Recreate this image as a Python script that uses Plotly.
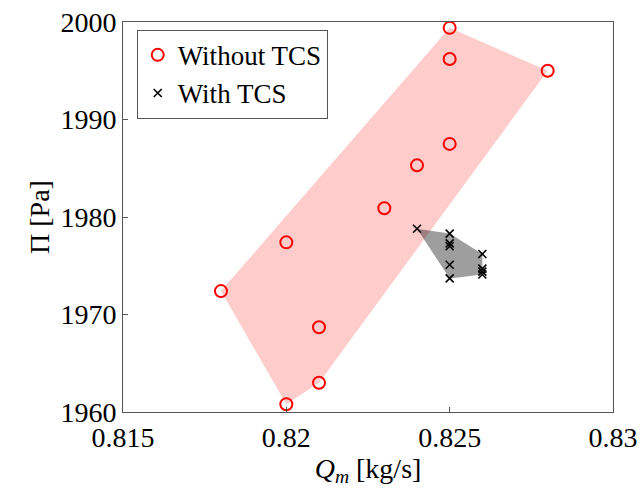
import plotly.graph_objects as go

# Data
x_without = [0.825, 0.825, 0.828, 0.825, 0.824, 0.823, 0.820, 0.818, 0.821, 0.821, 0.820]
y_without = [1999.4, 1996.2, 1995.0, 1987.5, 1985.3, 1980.9, 1977.4, 1972.4, 1968.7, 1963.0, 1960.8]
hull_without_x = [0.825, 0.828, 0.821, 0.820, 0.818]
hull_without_y = [1999.4, 1995.0, 1963.0, 1960.8, 1972.4]

x_with = [0.824, 0.825, 0.825, 0.825, 0.825, 0.825, 0.826, 0.826, 0.826, 0.826]
y_with = [1978.8, 1978.3, 1977.3, 1977.0, 1975.1, 1973.7, 1976.2, 1974.7, 1974.4, 1974.1]
hull_with_x = [0.824, 0.825, 0.826, 0.826, 0.825]
hull_with_y = [1978.8, 1978.3, 1976.2, 1974.1, 1973.7]

x_ticks = [0.815, 0.82, 0.825, 0.83]
x_ticktext = ["0.815", "0.82", "0.825", "0.83"]
y_ticks = [1960, 1970, 1980, 1990, 2000]

FONT = "Liberation Serif"

fig = go.Figure()
fig.add_trace(go.Scatter(x=hull_without_x + hull_without_x[:1], y=hull_without_y + hull_without_y[:1],
                         fill="toself", fillcolor="rgba(255,0,0,0.2)", line=dict(width=0),
                         mode="lines", showlegend=False, hoverinfo="skip"))
fig.add_trace(go.Scatter(x=hull_with_x + hull_with_x[:1], y=hull_with_y + hull_with_y[:1],
                         fill="toself", fillcolor="rgba(0,0,0,0.38)", line=dict(width=0),
                         mode="lines", showlegend=False, hoverinfo="skip"))
fig.add_trace(go.Scatter(x=x_without, y=y_without, mode="markers", name="Without TCS",
                         marker=dict(symbol="circle-open", size=12, color="red", line=dict(width=2, color="red"))))
fig.add_trace(go.Scatter(x=x_with, y=y_with, mode="markers", name="With TCS",
                         marker=dict(symbol="x-thin", size=8, color="black", line=dict(width=1.6, color="black"))))

axis_common = dict(showline=True, linecolor="#555", linewidth=1, mirror=True, ticks="inside",
                   ticklen=5, tickcolor="#555", showgrid=False, zeroline=False, automargin=False,
                   ticklabeloverflow="allow",
                   tickfont=dict(family=FONT, size=28, color="black"))
fig.update_xaxes(range=[0.8149999, 0.8300001], tickvals=x_ticks, ticktext=x_ticktext,
                 title=dict(text="<i>Q</i><sub><i>m</i></sub> [kg/s]", font=dict(family=FONT, size=28, color="black"),
                            standoff=4), **axis_common)
fig.update_yaxes(range=[1960, 2000.0001], tickvals=y_ticks,
                 title=dict(text="Π [Pa]", font=dict(family=FONT, size=28, color="black"), standoff=2),
                 **axis_common)
fig.update_layout(width=641, height=497, margin=dict(l=123, r=28, t=22, b=85),
                  plot_bgcolor="white", paper_bgcolor="white",
                  legend=dict(x=0.028, y=0.98, xanchor="left", yanchor="top", bordercolor="#555", borderwidth=1,
                              bgcolor="white", font=dict(family=FONT, size=27, color="black"),
                              itemwidth=30, tracegroupgap=0))
fig.write_html("out.html", config={"displayModeBar": False},
               post_script="document.body.style.margin='0';document.body.style.overflow='hidden';")
